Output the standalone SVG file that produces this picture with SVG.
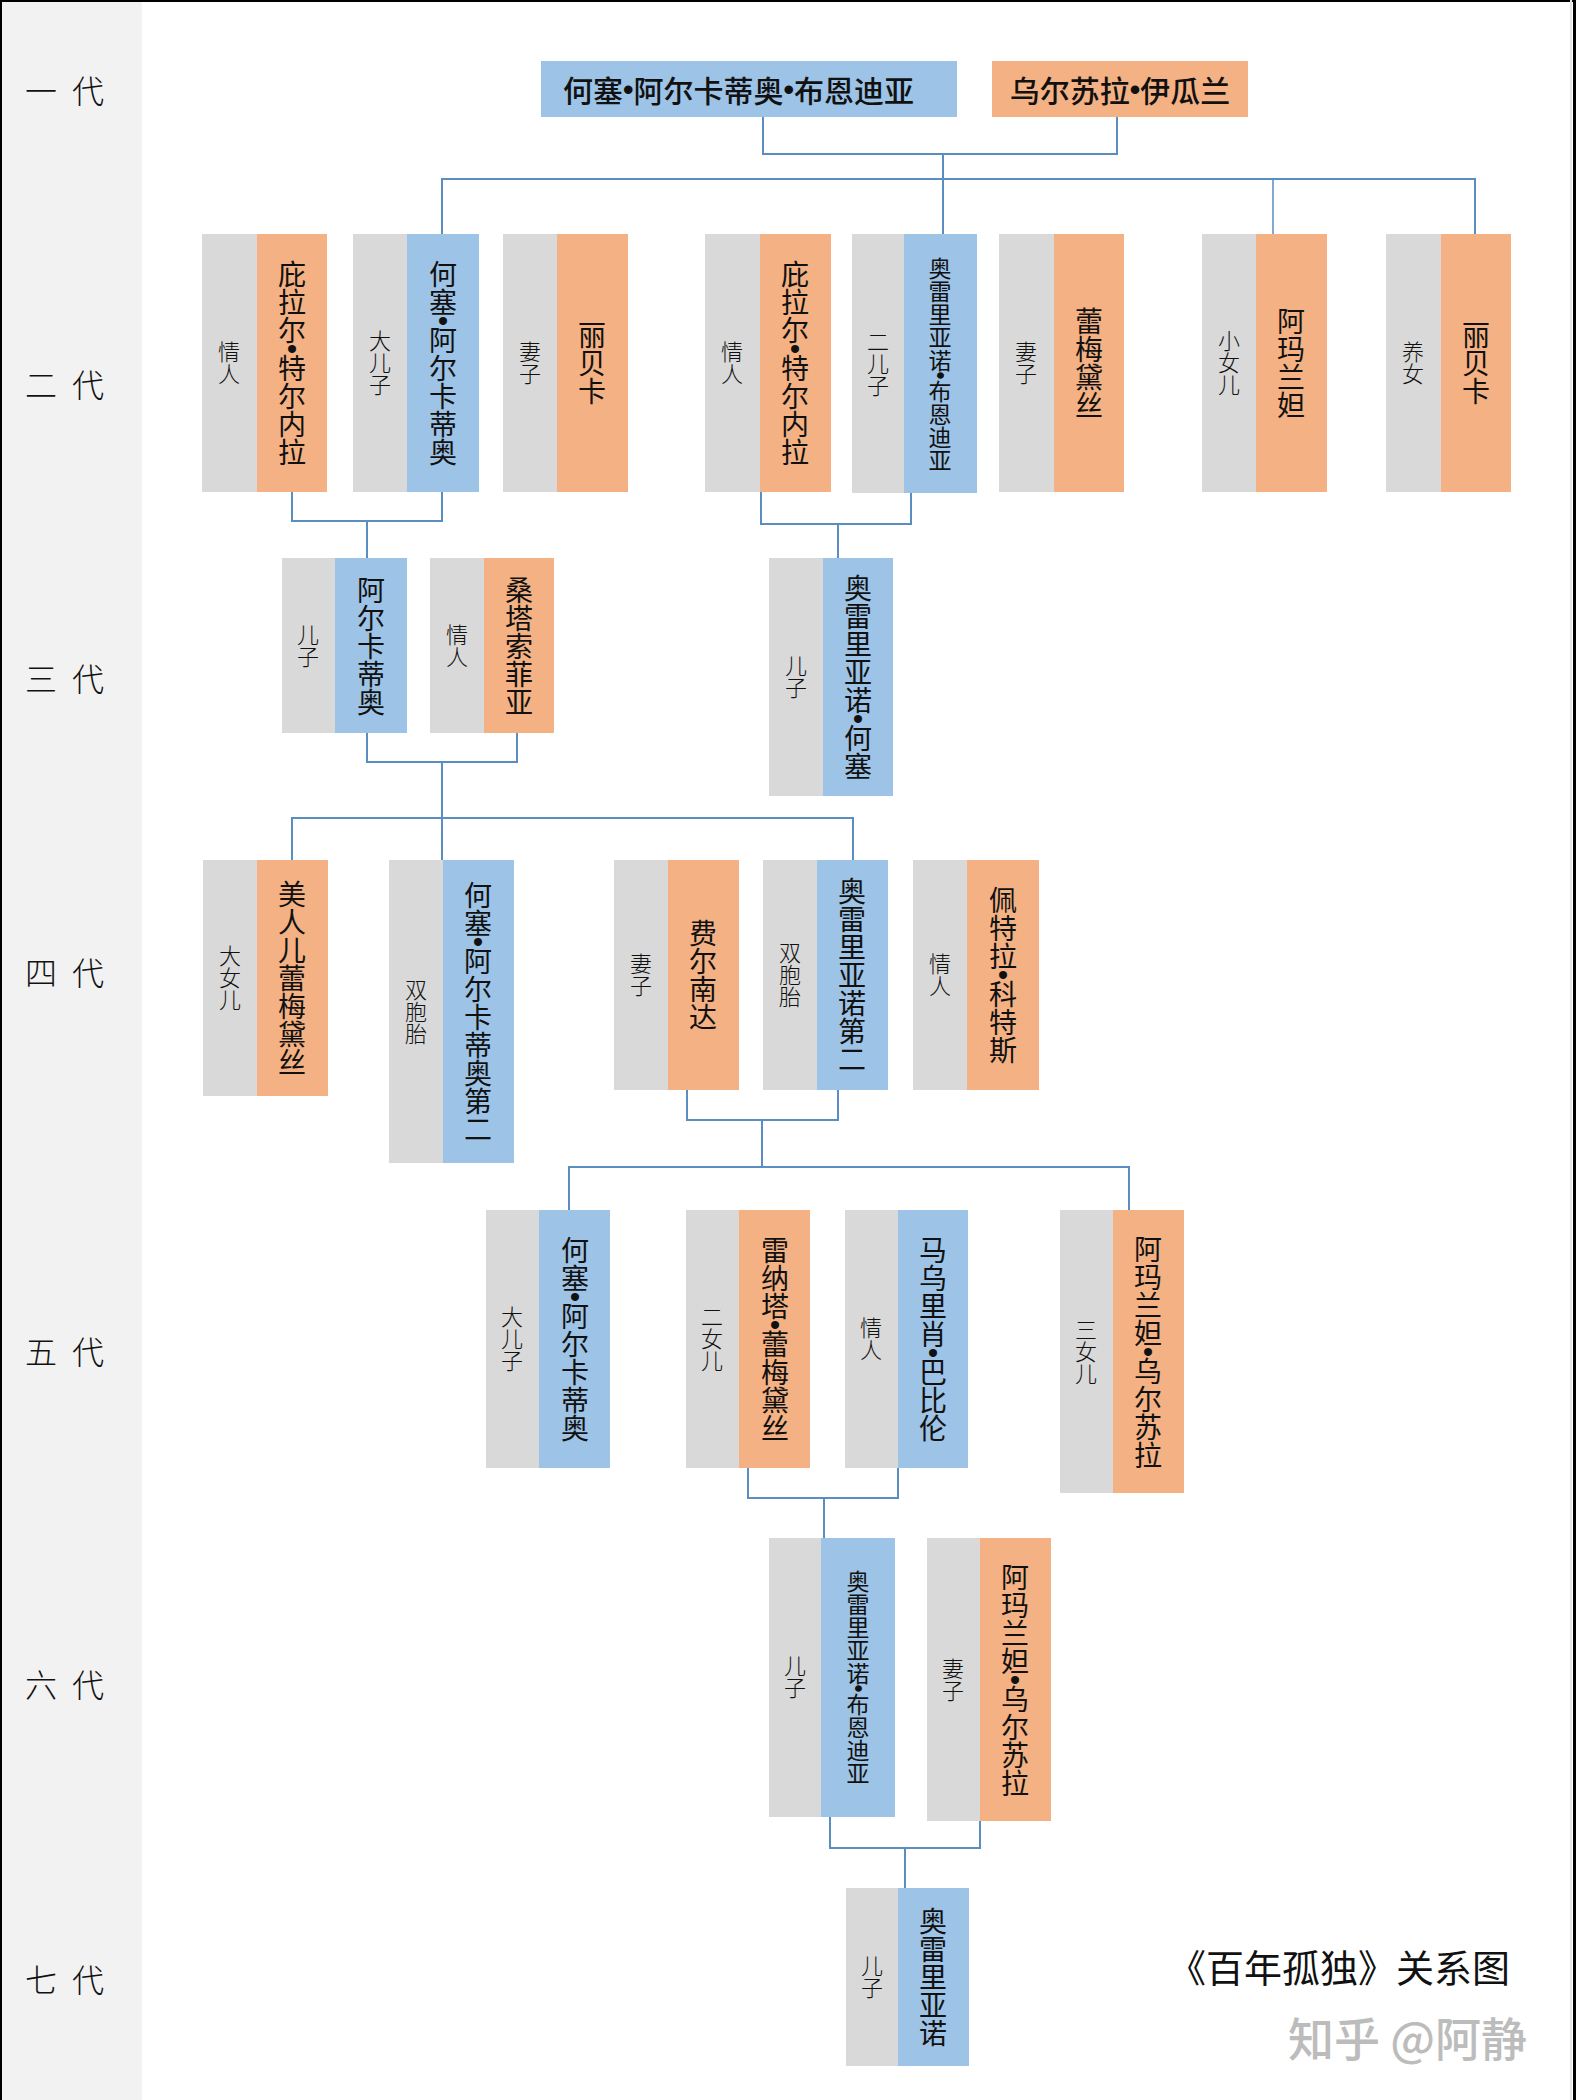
<svg xmlns="http://www.w3.org/2000/svg" width="1576" height="2100" viewBox="0 0 1576 2100">
<style>
text{font-family:'Noto Sans CJK SC','Noto Sans',sans-serif;fill:#111}
.d{font-family:'Liberation Sans',sans-serif;font-weight:700}
.g{fill:#d9d9d9}
.b{fill:#9dc3e6}
.o{fill:#f4b183}
.v{writing-mode:vertical-rl;text-anchor:middle}
.nm{font-size:28px}
.sm{font-size:23px}
.lb{font-size:22px;font-weight:300}
.gen{font-size:32px;font-weight:300;letter-spacing:4px;dominant-baseline:central}
.h{font-size:30px;font-weight:500;dominant-baseline:central}
.conn path{fill:none;stroke:#5a8dc0;stroke-width:2}
</style>
<rect x="0" y="0" width="1576" height="2100" fill="#fff"/>
<rect x="0" y="0" width="142" height="2100" fill="#f2f2f2"/>
<rect x="0" y="0" width="1576" height="2" fill="#000"/>
<rect x="0" y="0" width="2" height="2100" fill="#000"/>
<rect x="1570" y="0" width="2" height="2100" fill="#e6e6e6"/>
<rect x="1573" y="0" width="3" height="2100" fill="#000"/>

<g id="generations">
<text class="gen" x="25" y="89" xml:space="preserve">一 代</text>
<text class="gen" x="25" y="383" xml:space="preserve">二 代</text>
<text class="gen" x="25" y="677" xml:space="preserve">三 代</text>
<text class="gen" x="25" y="971" xml:space="preserve">四 代</text>
<text class="gen" x="25" y="1350" xml:space="preserve">五 代</text>
<text class="gen" x="25" y="1683" xml:space="preserve">六 代</text>
<text class="gen" x="25" y="1978" xml:space="preserve">七 代</text>
</g>

<g class="conn" id="connectors">
<path d="M763,117 V154 H1117 V117"/>
<path d="M943,154 V234"/>
<path d="M442,234 V179 H1475 V234"/>
<path d="M1273,179 V234" style="stroke-width:1.5"/>
<path d="M292,492 V521 H442 V492"/>
<path d="M367,521 V558"/>
<path d="M761,492 V524 H911 V493"/>
<path d="M838,524 V559"/>
<path d="M367,733 V762 H517 V733"/>
<path d="M442,762 V860"/>
<path d="M292,860 V818 H853 V860"/>
<path d="M687,1090 V1120 H838 V1090"/>
<path d="M762,1120 V1167"/>
<path d="M569,1210 V1167 H1129 V1210"/>
<path d="M748,1468 V1498 H898 V1468"/>
<path d="M824,1498 V1538"/>
<path d="M830,1817 V1848 H980 V1821"/>
<path d="M905,1848 V1888"/>
</g>

<g id="g1-father">
<rect class="b" x="541" y="61" width="416" height="56"/>
<text class="h" x="563" y="89">何塞<tspan class="d">•</tspan>阿尔卡蒂奥<tspan class="d">•</tspan>布恩迪亚</text>
</g>
<g id="g1-mother">
<rect class="o" x="992" y="61" width="256" height="56"/>
<text class="h" x="1120" y="89" text-anchor="middle">乌尔苏拉<tspan class="d">•</tspan>伊瓜兰</text>
</g>

<g id="g2-pilar">
<rect class="g" x="202" y="234" width="55" height="258"/><rect class="o" x="257" y="234" width="70" height="258"/>
<text class="v lb" x="229" y="363">情人</text><text class="v nm" x="292" y="363">庇拉尔<tspan class="d">•</tspan>特尔内拉</text>
</g>
<g id="g2-jose">
<rect class="g" x="353" y="234" width="54" height="258"/><rect class="b" x="407" y="234" width="72" height="258"/>
<text class="v lb" x="380" y="363">大儿子</text><text class="v nm" x="443" y="363">何塞<tspan class="d">•</tspan>阿尔卡蒂奥</text>
</g>
<g id="g2-rebeca1">
<rect class="g" x="503" y="234" width="54" height="258"/><rect class="o" x="557" y="234" width="71" height="258"/>
<text class="v lb" x="530" y="363">妻子</text><text class="v nm" x="592" y="363">丽贝卡</text>
</g>
<g id="g2-pilar2">
<rect class="g" x="705" y="234" width="55" height="258"/><rect class="o" x="760" y="234" width="71" height="258"/>
<text class="v lb" x="732" y="363">情人</text><text class="v nm" x="795" y="363">庇拉尔<tspan class="d">•</tspan>特尔内拉</text>
</g>
<g id="g2-aureliano">
<rect class="g" x="852" y="234" width="52" height="259"/><rect class="b" x="904" y="234" width="73" height="259"/>
<text class="v lb" x="878" y="364">二儿子</text><text class="v sm" x="940" y="364">奥雷里亚诺<tspan class="d">•</tspan>布恩迪亚</text>
</g>
<g id="g2-remedios">
<rect class="g" x="999" y="234" width="55" height="258"/><rect class="o" x="1054" y="234" width="70" height="258"/>
<text class="v lb" x="1026" y="363">妻子</text><text class="v nm" x="1089" y="363">蕾梅黛丝</text>
</g>
<g id="g2-amaranta">
<rect class="g" x="1202" y="234" width="54" height="258"/><rect class="o" x="1256" y="234" width="71" height="258"/>
<text class="v lb" x="1229" y="363">小女儿</text><text class="v nm" x="1291" y="363">阿玛兰妲</text>
</g>
<g id="g2-rebeca2">
<rect class="g" x="1386" y="234" width="55" height="258"/><rect class="o" x="1441" y="234" width="70" height="258"/>
<text class="v lb" x="1413" y="363">养女</text><text class="v nm" x="1476" y="363">丽贝卡</text>
</g>

<g id="g3-arcadio">
<rect class="g" x="282" y="558" width="53" height="175"/><rect class="b" x="335" y="558" width="72" height="175"/>
<text class="v lb" x="308" y="646">儿子</text><text class="v nm" x="371" y="646">阿尔卡蒂奥</text>
</g>
<g id="g3-santa">
<rect class="g" x="430" y="558" width="54" height="175"/><rect class="o" x="484" y="558" width="70" height="175"/>
<text class="v lb" x="457" y="646">情人</text><text class="v nm" x="519" y="646">桑塔索菲亚</text>
</g>
<g id="g3-aureliano-jose">
<rect class="g" x="769" y="558" width="54" height="238"/><rect class="b" x="823" y="558" width="70" height="238"/>
<text class="v lb" x="796" y="677">儿子</text><text class="v nm" x="858" y="677">奥雷里亚诺<tspan class="d">•</tspan>何塞</text>
</g>

<g id="g4-remedios">
<rect class="g" x="203" y="860" width="54" height="236"/><rect class="o" x="257" y="860" width="71" height="236"/>
<text class="v lb" x="230" y="978">大女儿</text><text class="v nm" x="292" y="978">美人儿蕾梅黛丝</text>
</g>
<g id="g4-jose-segundo">
<rect class="g" x="389" y="860" width="54" height="303"/><rect class="b" x="443" y="860" width="71" height="303"/>
<text class="v lb" x="416" y="1012">双胞胎</text><text class="v nm" x="478" y="1012">何塞<tspan class="d">•</tspan>阿尔卡蒂奥第二</text>
</g>
<g id="g4-fernanda">
<rect class="g" x="614" y="860" width="54" height="230"/><rect class="o" x="668" y="860" width="71" height="230"/>
<text class="v lb" x="641" y="975">妻子</text><text class="v nm" x="703" y="975">费尔南达</text>
</g>
<g id="g4-aureliano-segundo">
<rect class="g" x="763" y="860" width="54" height="230"/><rect class="b" x="817" y="860" width="71" height="230"/>
<text class="v lb" x="790" y="975">双胞胎</text><text class="v nm" x="852" y="975">奥雷里亚诺第二</text>
</g>
<g id="g4-petra">
<rect class="g" x="913" y="860" width="54" height="230"/><rect class="o" x="967" y="860" width="72" height="230"/>
<text class="v lb" x="940" y="975">情人</text><text class="v nm" x="1003" y="975">佩特拉<tspan class="d">•</tspan>科特斯</text>
</g>

<g id="g5-jose">
<rect class="g" x="486" y="1210" width="53" height="258"/><rect class="b" x="539" y="1210" width="71" height="258"/>
<text class="v lb" x="512" y="1339">大儿子</text><text class="v nm" x="575" y="1339">何塞<tspan class="d">•</tspan>阿尔卡蒂奥</text>
</g>
<g id="g5-renata">
<rect class="g" x="686" y="1210" width="53" height="258"/><rect class="o" x="739" y="1210" width="71" height="258"/>
<text class="v lb" x="712" y="1339">二女儿</text><text class="v nm" x="775" y="1339">雷纳塔<tspan class="d">•</tspan>蕾梅黛丝</text>
</g>
<g id="g5-mauricio">
<rect class="g" x="845" y="1210" width="53" height="258"/><rect class="b" x="898" y="1210" width="70" height="258"/>
<text class="v lb" x="871" y="1339">情人</text><text class="v nm" x="933" y="1339">马乌里肖<tspan class="d">•</tspan>巴比伦</text>
</g>
<g id="g5-amaranta-ursula">
<rect class="g" x="1060" y="1210" width="53" height="283"/><rect class="o" x="1113" y="1210" width="71" height="283"/>
<text class="v lb" x="1086" y="1352">三女儿</text><text class="v nm" x="1148" y="1352">阿玛兰妲<tspan class="d">•</tspan>乌尔苏拉</text>
</g>

<g id="g6-aureliano">
<rect class="g" x="769" y="1538" width="52" height="279"/><rect class="b" x="821" y="1538" width="74" height="279"/>
<text class="v lb" x="795" y="1677">儿子</text><text class="v sm" x="858" y="1677">奥雷里亚诺<tspan class="d">•</tspan>布恩迪亚</text>
</g>
<g id="g6-amaranta-ursula">
<rect class="g" x="927" y="1538" width="53" height="283"/><rect class="o" x="980" y="1538" width="71" height="283"/>
<text class="v lb" x="953" y="1680">妻子</text><text class="v nm" x="1015" y="1680">阿玛兰妲<tspan class="d">•</tspan>乌尔苏拉</text>
</g>

<g id="g7-aureliano">
<rect class="g" x="846" y="1888" width="52" height="178"/><rect class="b" x="898" y="1888" width="71" height="178"/>
<text class="v lb" x="872" y="1977">儿子</text><text class="v nm" x="933" y="1977">奥雷里亚诺</text>
</g>

<g id="title">
<text x="1168" y="1965" font-size="38" style="dominant-baseline:central">《百年孤独》关系图</text>
<text x="1288" y="2036" font-size="46" font-weight="500" style="fill:#bcbcbc;dominant-baseline:central">知乎 @阿静</text>
</g>
</svg>
